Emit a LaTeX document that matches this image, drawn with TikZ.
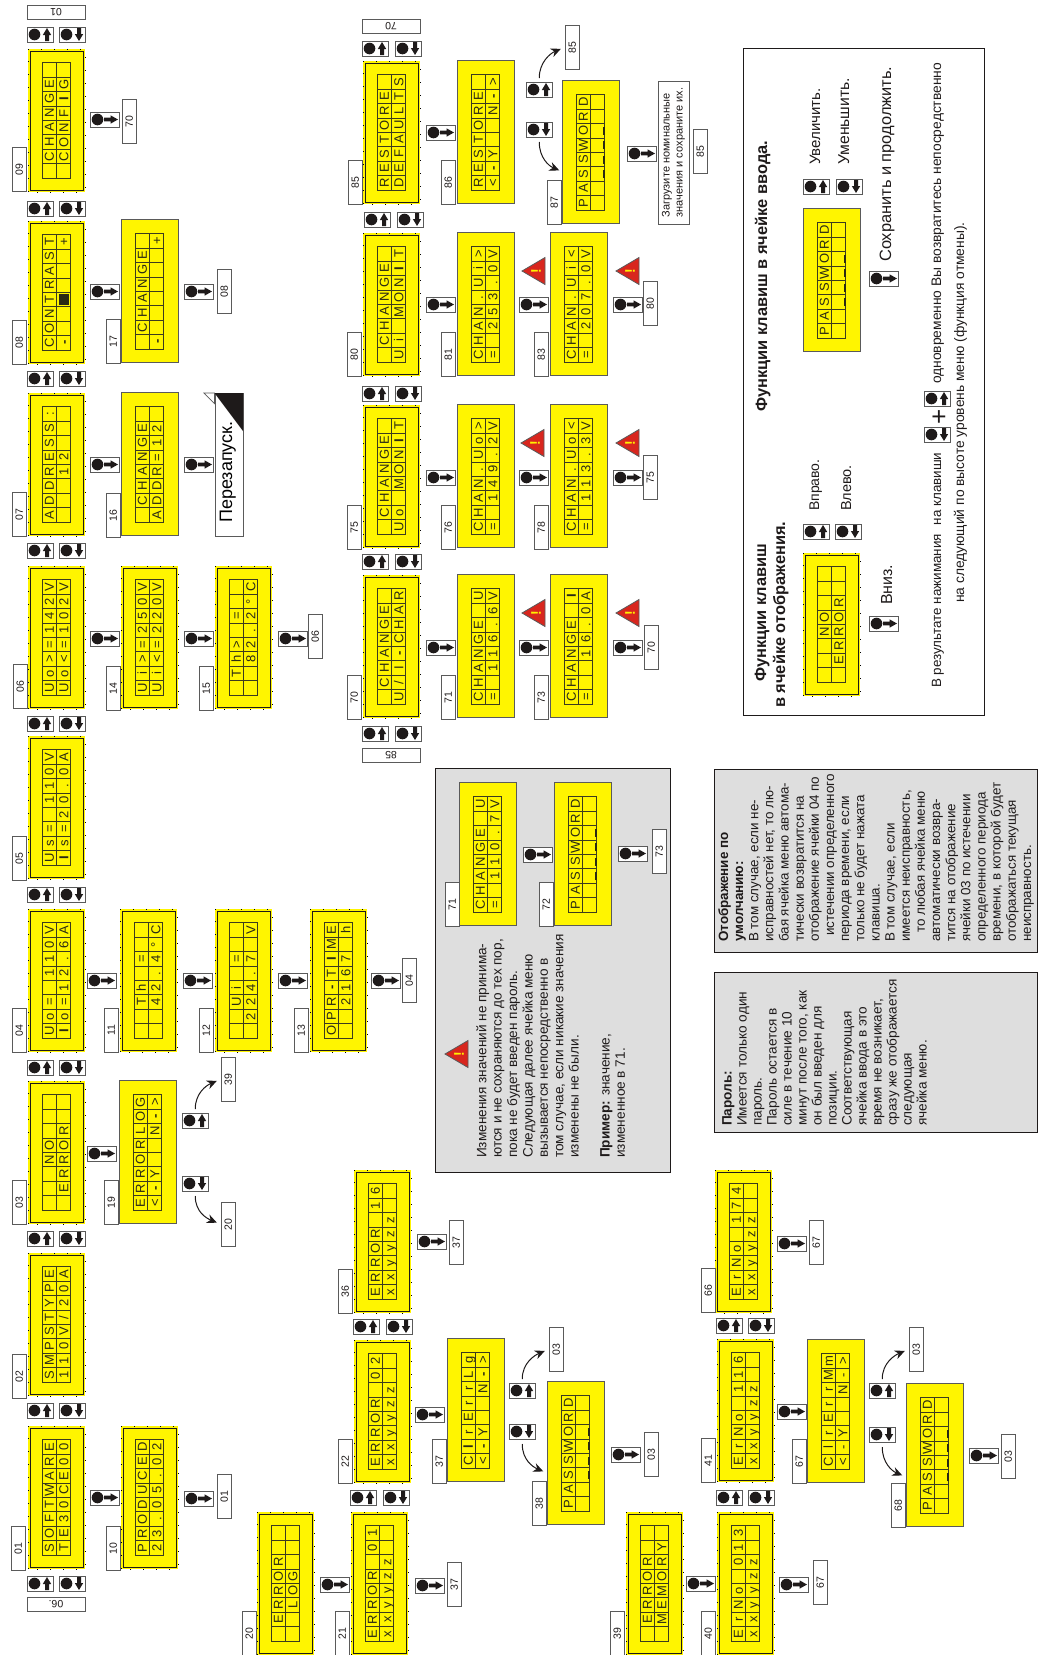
\documentclass[tikz,border=0pt]{standalone}
\usepackage{fontspec}
\setmainfont{Liberation Sans}
\usetikzlibrary{arrows.meta}
\definecolor{lcdyellow}{HTML}{FFF500}
\definecolor{lcdline}{HTML}{3C3C1E}
\definecolor{lcdtext}{HTML}{2A2A14}
\definecolor{edge}{HTML}{5A5A5A}
\definecolor{ink}{HTML}{1E1A1A}
\definecolor{greyfill}{HTML}{DEDEDE}
\definecolor{warnred}{HTML}{D8261E}
\makeatletter
\def\lcdstar{*}
\newcommand\lcdrowtext[1]{\@tfor\lcdc:=#1\do{\makebox[14.4pt][c]{\ifx\lcdc\lcdstar\else\lcdc\fi}}}
\makeatother
\newcommand\B[1]{\textbf{#1}}
\newcommand\curs{\rule[-2.8pt]{8pt}{2pt}}
\newcommand\sqr{\rule[-1pt]{10.5pt}{10.5pt}}
\newcommand\fs[2]{\fontsize{#1}{#2}\selectfont}
\tikzset{
  lcdd/.style={fill=lcdyellow,draw=none,inner sep=0pt,minimum width=57pt,minimum height=143pt,anchor=south west},
  lcdp/.style={fill=lcdyellow,draw=edge,line width=0.9pt,inner sep=0pt,minimum width=57pt,minimum height=143pt,anchor=south west},
  lcdrow/.style={rotate=90,inner sep=0pt,text=lcdtext,font=\fs{13}{13},text height=9.3pt,text depth=0pt,anchor=center},
  gridln/.style={draw=lcdline,line width=0.8pt},
  tag/.style={rotate=90,draw=edge,fill=white,line width=0.9pt,inner sep=0pt,minimum width=43.5pt,minimum height=14.5pt,font=\fs{10.5}{10.5},text=ink},
  wtag/.style={rotate=180,draw=edge,fill=white,line width=0.9pt,inner sep=0pt,minimum width=58pt,minimum height=14.5pt,font=\fs{10.5}{10.5},text=ink},
  keybox/.style={draw=edge,fill=white,line width=1pt,inner sep=0pt,minimum height=15pt,anchor=north west},
  cv/.style={draw=ink,line width=1pt,-{Stealth[length=10pt,width=9pt]},shorten <=4pt,shorten >=4pt},
  greybox/.style={draw=ink,fill=greyfill,line width=1.3pt,inner sep=0pt,anchor=north west},
  para/.style={rotate=90,inner sep=0pt,anchor=north west,align=left,text=ink},
  lineh/.style={rotate=90,inner sep=0pt,anchor=west,text=ink,text height=8pt,text depth=2pt},
}
% LCD: id, left x, bottom y, kind (d/p), row 1, row 2
\newcommand\lcd[6]{%
  \node[lcd#4,name=c#1] at (#2,#3) {};
  \if#4d
    \draw[draw=ink,line width=0.9pt] (#2+2,#3-2) rectangle (#2+55,#3-141);
    \draw[draw=black,line width=1pt,dash pattern=on 1pt off 12pt] (#2,#3) rectangle (#2+57,#3-143);
  \fi
  \begin{scope}[shift={(#2,#3)}]
    \foreach \lcdi in {0,...,8} \draw[gridln] (14,-14-14.4*\lcdi) -- (42.8,-14-14.4*\lcdi);
    \foreach \lcdi in {0,1,2} \draw[gridln] (14+14.4*\lcdi,-14) -- (14+14.4*\lcdi,-129.2);
    \node[lcdrow,name=c#1a] at (21.2,-71.6) {\lcdrowtext{#5}};
    \node[lcdrow,name=c#1b] at (35.6,-71.6) {\lcdrowtext{#6}};
  \end{scope}}
% numbered tags: name, left x, bottom y, text
\newcommand\tagn[4]{\node[tag,name=#1] at (#2+7.25,#3-21.75) {#4};}
\newcommand\wtagn[4]{\node[wtag,name=#1] at (#2+29,#3+7.25) {#4};}
% keys: name, left x, top y
\newcommand\kyu[3]{%
  \node[keybox,minimum width=25.5pt,name=#1] at (#2,#3) {};
  \fill[ink] (#2+7.5,#3+7.5) circle (5.8);
  \fill[ink] (#2+20,#3+1) -- (#2+24.2,#3+8) -- (#2+22,#3+8) -- (#2+22,#3+14) -- (#2+18,#3+14) -- (#2+18,#3+8) -- (#2+15.8,#3+8) -- cycle;}
\newcommand\kyd[3]{%
  \node[keybox,minimum width=25.5pt,name=#1] at (#2,#3) {};
  \fill[ink] (#2+7.5,#3+7.5) circle (5.8);
  \fill[ink] (#2+20,#3+14) -- (#2+24.2,#3+7) -- (#2+22,#3+7) -- (#2+22,#3+1) -- (#2+18,#3+1) -- (#2+18,#3+7) -- (#2+15.8,#3+7) -- cycle;}
\newcommand\kyr[3]{%
  \node[keybox,minimum width=29pt,name=#1] at (#2,#3) {};
  \fill[ink] (#2+7.5,#3+7.5) circle (5.8);
  \fill[ink] (#2+28,#3+7.5) -- (#2+20.5,#3+3.3) -- (#2+20.5,#3+5.7) -- (#2+14,#3+5.7) -- (#2+14,#3+9.3) -- (#2+20.5,#3+9.3) -- (#2+20.5,#3+11.7) -- cycle;}
\newcommand\kp[4]{\kyu{#1u}{#2}{#4}\kyd{#1d}{#3}{#4}}
% warning: name, apex x, mid y
\newcommand\warn[3]{%
  \path[fill=warnred,draw=edge,line width=0.8pt] (#2,#3) -- (#2+23,#3-13.5) -- (#2+23,#3+13.5) -- cycle;
  \node[rotate=90,inner sep=0pt,text=yellow,font=\fs{14}{14}\bfseries,name=#1] at (#2+14,#3) {!};}
\begin{document}
\begin{tikzpicture}[x=1pt,y=-1pt]
\useasboundingbox (0,0) rectangle (1042,1655);
% column 1
\lcd{09}{28}{192}{d}{*CHANGE*}{*CONF{\B{I}}G*}
\lcd{08}{28}{364}{d}{CONTRAST}{{\B{-}}**\sqr***+}
\lcd{07}{28}{536}{d}{ADDRESS:}{***12***}
\lcd{06}{28}{709}{d}{Uo>=142V}{Uo<=102V}
\lcd{05}{28}{879}{d}{Us=*110V}{{\B{I}}s=20.0A}
\lcd{04}{28}{1052}{d}{Uo=*110V}{{\B{I}}o=12.6A}
\lcd{03}{28}{1224}{d}{***NO***}{*ERROR**}
\lcd{02}{28}{1396}{d}{SMPSTYPE}{110V/20A}
\lcd{01}{28}{1569}{d}{SOFTWARE}{TE30CE00}
% column 2
\lcd{17}{121}{363}{p}{*CHANGE*}{{\B{-}}******+}
\lcd{16}{121}{536}{p}{*CHANGE*}{ADDR=12*}
\lcd{14}{121}{709}{d}{Ui>=250V}{Ui<=220V}
\lcd{11}{120}{1052}{d}{**Th*=**}{**42.4°C}
\lcd{19}{119}{1224}{p}{ERRORLOG}{<{\B{-}}Y**N{\B{-}}>}
\lcd{10}{121}{1569}{d}{PRODUCED}{23.05.02}
% column 3
\lcd{15}{215}{709}{d}{*Th>*=**}{**82.2°C}
\lcd{12}{215}{1052}{d}{**Ui*=**}{*224.7*V}
\lcd{13}{310}{1052}{d}{OPR{\B{-}}T{\B{I}}ME}{**2167*h}
% error block
\lcd{20}{257}{1655}{d}{*ERROR**}{**LOG***}
\lcd{21}{351}{1655}{d}{ERROR*01}{xxyyzz**}
\lcd{22}{354}{1483}{d}{ERROR*02}{xxyyzz**}
\lcd{36}{354}{1313}{d}{ERROR*16}{xxyyzz**}
\lcd{37}{447}{1482}{p}{C{\B{l}}rErrLg}{<{\B{-}}Y**N{\B{-}}>}
\lcd{38}{547}{1525}{p}{PASSWORD}{**\curs\curs\curs\curs**}
\lcd{39}{626}{1655}{d}{*ERROR**}{*MEMORY*}
\lcd{40}{717}{1655}{d}{ErNo*013}{xxyyzz**}
\lcd{41}{717}{1482}{d}{ErNo*116}{xxyyzz**}
\lcd{66}{715}{1313}{d}{ErNo*174}{xxyyzz**}
\lcd{67}{807}{1483}{p}{ClrErrMm}{<-Y**N->}
\lcd{68}{906}{1527}{p}{PASSWORD}{**\curs\curs\curs\curs**}
% upper right
\lcd{85}{363}{204}{d}{RESTORE*}{DEFAULTS}
\lcd{86}{457}{204}{p}{RESTORE*}{<{\B{-}}Y**N{\B{-}}>}
\lcd{87}{562}{224}{p}{PASSWORD}{**\curs\curs\curs\curs**}
\lcd{80}{363}{376}{d}{*CHANGE*}{Ui*MON{\B{I}}T}
\lcd{81}{457}{376}{p}{CHAN.Ui>}{=*253.0V}
\lcd{83}{550}{376}{p}{CHAN.Ui<}{=*207.0V}
\lcd{75}{363}{548}{d}{*CHANGE*}{Uo*MON{\B{I}}T}
\lcd{76}{457}{548}{p}{CHAN.Uo>}{=*149.2V}
\lcd{78}{550}{548}{p}{CHAN.Uo<}{=*113.3V}
\lcd{70}{363}{718}{d}{*CHANGE*}{U/I{\B{-}}CHAR}
\lcd{71}{457}{718}{p}{CHANGE*U}{=*116.6V}
\lcd{73}{550}{718}{p}{CHANGE*{\B{I}}}{=**16.0A}
% tags
\tagn{t09}{12}{191}{09}\tagn{t08}{12}{364}{08}\tagn{t07}{12}{536}{07}\tagn{t06}{13}{708}{06}
\tagn{t05}{12}{880}{05}\tagn{t04}{12}{1052}{04}\tagn{t03}{12}{1224}{03}\tagn{t02}{12}{1398}{02}\tagn{t01}{11}{1570}{01}
\tagn{t17}{106}{363}{17}\tagn{t16}{106}{537}{16}\tagn{t14}{106}{710}{14}\tagn{t11}{104}{1052}{11}\tagn{t19}{104}{1224}{19}\tagn{t10}{106}{1570}{10}
\tagn{t15}{199}{710}{15}\tagn{t12}{199}{1052}{12}\tagn{t13}{294}{1052}{13}
\tagn{t20}{242}{1655}{20}\tagn{t21}{335}{1655}{21}\tagn{t22}{338}{1483}{22}\tagn{t36}{338}{1313}{36}\tagn{t37}{432}{1483}{37}\tagn{t38}{532}{1525}{38}
\tagn{t39}{610}{1655}{39}\tagn{t40}{701}{1655}{40}\tagn{t41}{701}{1482}{41}\tagn{t66}{701}{1312}{66}\tagn{t67}{792}{1483}{67}\tagn{t68}{891}{1527}{68}
\tagn{t85}{348}{204}{85}\tagn{t86}{441}{204}{86}\tagn{t87}{547}{224}{87}\tagn{t80}{347}{376}{80}\tagn{t81}{441}{376}{81}\tagn{t83}{534}{376}{83}
\tagn{t75}{347}{549}{75}\tagn{t76}{441}{549}{76}\tagn{t78}{534}{549}{78}\tagn{t70}{347}{719}{70}\tagn{t71}{441}{719}{71}\tagn{t73}{534}{719}{73}
% target tags
\tagn{n70a}{122}{143}{70}\tagn{n08}{217}{313}{08}\tagn{n06}{308}{658}{06}\tagn{n04}{402}{1002}{04}
\tagn{n39}{221}{1101}{39}\tagn{n20}{221}{1246}{20}\tagn{n01}{217}{1518}{01}
\tagn{n37a}{447}{1606}{37}\tagn{n37b}{449}{1264}{37}\tagn{n03a}{549}{1371}{03}\tagn{n03b}{644}{1476}{03}
\tagn{n67a}{813}{1604}{67}\tagn{n67b}{809}{1264}{67}\tagn{n03c}{909}{1371}{03}\tagn{n03d}{1001}{1478}{03}
\tagn{n85a}{565}{69}{85}\tagn{n85b}{693}{173}{85}\tagn{n80}{643}{325}{80}\tagn{n75}{643}{499}{75}\tagn{n70b}{644}{669}{70}
\wtagn{w01}{27}{5}{01}\wtagn{w06}{27}{1597}{06.}\wtagn{w70}{362}{19}{70}\wtagn{w85}{362}{748}{85}
% key pairs, column 1
\kp{a1}{27}{59}{27}\kp{a2}{27}{59}{201}\kp{a3}{27}{59}{371}\kp{a4}{27}{59}{543}\kp{a5}{27}{59}{716}
\kp{a6}{27}{59}{887}\kp{a7}{27}{59}{1060}\kp{a8}{27}{59}{1231}\kp{a9}{27}{59}{1403}\kp{a10}{27}{59}{1576}
% key pairs, others
\kp{b1}{350}{383}{1490}\kp{b2}{353}{386}{1319}\kp{b3}{716}{748}{1490}\kp{b4}{716}{748}{1318}
\kp{b5}{362}{395}{41}\kp{b6}{364}{397}{212}\kp{b7}{362}{395}{386}\kp{b8}{362}{395}{554}\kp{b9}{362}{395}{726}
% right keys
\kyr{r1}{90}{112}\kyr{r2}{90}{284}\kyr{r3}{90}{457}\kyr{r4}{90}{631}\kyr{r5}{87}{973}\kyr{r6}{87}{1146}\kyr{r7}{90}{1490}
\kyr{r8}{184}{284}\kyr{r9}{184}{457}\kyr{r10}{184}{631}\kyr{r11}{183}{973}\kyr{r12}{184}{1491}
\kyr{r13}{278}{631}\kyr{r14}{278}{973}\kyr{r15}{371}{973}
\kyr{r16}{320}{1577}\kyr{r17}{415}{1578}\kyr{r18}{417}{1234}\kyr{r19}{415}{1407}\kyr{r20}{611}{1447}
\kyr{r21}{686}{1576}\kyr{r22}{779}{1577}\kyr{r23}{777}{1236}\kyr{r24}{777}{1404}\kyr{r25}{969}{1448}
\kyr{r26}{426}{125}\kyr{r27}{426}{297}\kyr{r28}{426}{470}\kyr{r29}{426}{640}
\kyr{r30}{519}{297}\kyr{r31}{519}{470}\kyr{r32}{519}{640}
\kyr{r33}{613}{297}\kyr{r34}{613}{470}\kyr{r35}{613}{640}\kyr{r36}{627}{146}
% branch keys and curved arrows
\kyu{u19}{182}{1113}\kyd{d19}{182}{1176}
\kyu{u37}{509}{1383}\kyd{d37}{509}{1424}
\kyu{u67}{869}{1383}\kyd{d67}{869}{1427}
\kyu{u86}{526}{82}\kyd{d86}{526}{122}
\coordinate (e38) at (547,1473);
\coordinate (e68) at (906,1477);
\coordinate (e87) at (563,172);
\draw[cv] (u19.north) .. controls +(0,-20) and +(-14,6) .. (n39.north);
\draw[cv] (d19.south) .. controls +(0,20) and +(-14,-6) .. (n20.north);
\draw[cv] (u37.north) .. controls +(0,-20) and +(-14,6) .. (n03a.north);
\draw[cv] (d37.south) .. controls +(0,20) and +(-14,-6) .. (e38);
\draw[cv] (u67.north) .. controls +(0,-20) and +(-14,6) .. (n03c.north);
\draw[cv] (d67.south) .. controls +(0,20) and +(-14,-6) .. (e68);
\draw[cv] (u86.north) .. controls +(0,-20) and +(-14,6) .. (n85a.north);
\draw[cv] (d86.south) .. controls +(0,20) and +(-14,-6) .. (e87);
% warnings
\warn{w81}{522}{271}\warn{w83}{616}{271}\warn{w76}{521}{443}\warn{w78}{616}{443}\warn{w71}{522}{613}\warn{w73}{616}{613}
% restart box
\node[rotate=90,draw=edge,fill=white,line width=0.9pt,inner sep=0pt,minimum width=143pt,minimum height=28pt,name=reset] at (229,464.5) {};
\fill[ink] (214.5,393) -- (243,393) -- (243,431) -- cycle;
\path[draw=edge,fill=white,line width=0.7pt] (204,393) -- (214.5,393) -- (214.5,403.5) -- cycle;
\node[lineh,name=resett,font=\fs{18}{18},text=black] at (229,523) {Перезапуск.};
% load-defaults note
\node[rotate=90,draw=edge,fill=white,line width=0.9pt,inner sep=0pt,minimum width=143pt,minimum height=31pt,name=loadbox,font=\fs{11}{13},align=left,text=ink] at (673.5,152.5) {Загрузите номинальные\\значения и сохраните их.};
% grey box A
\node[greybox,minimum width=235pt,minimum height=404pt,name=boxa] at (435,768) {};
\lcd{a71}{459}{926}{p}{CHANGE*U}{=*110.7V}
\lcd{a72}{554}{926}{p}{PASSWORD}{**\curs\curs\curs\curs**}
\tagn{ta71}{445}{926}{71}\tagn{ta72}{539}{926}{72}\tagn{ta73}{652}{873}{73}
\kyr{ra1}{523}{847}\kyr{ra2}{618}{846}
\warn{wa}{445}{1054}
\node[para,name=boxatext,font=\fs{13.6}{15.4}] at (476,1158) {Изменения значений не принима-\\ются и не сохраняются до тех пор,\\пока не будет введен пароль.\\Следующая далее ячейка меню\\вызывается непосредственно в\\том случае, если никакие значения\\изменены не были.\\[15.4pt]\textbf{Пример:} значение,\\измененное в 71.};
% grey box B
\node[greybox,minimum width=323pt,minimum height=160pt,name=boxb] at (714,972) {};
\node[para,name=boxbtext,font=\fs{13.6}{15}] at (722,1126) {\textbf{Пароль:}\\Имеется только один\\пароль.\\Пароль остается в\\силе в течение 10\\минут после того, как\\он был введен для\\позиции.\\Соответствующая\\ячейка ввода в это\\время не возникает,\\сразу же отображается\\следующая\\ячейка меню.};
% grey box C
\node[greybox,minimum width=323pt,minimum height=183pt,name=boxc] at (714,769) {};
\node[para,name=boxctext,font=\fs{13.4}{15.15}] at (718,942) {\textbf{Отображение по}\\\textbf{умолчанию:}\\В том случае, если не-\\исправностей нет, то лю-\\бая ячейка меню автома-\\тически возвратится на\\отображение ячейки 04 по\\\hspace*{6pt}истечении определенного\\периода времени, если\\только не будет нажата\\клавиша.\\В том случае, если\\имеется неисправность,\\\hspace*{9pt}то любая ячейка меню\\автоматически возвра-\\тится на отображение\\ячейки 03 по истечении\\определенного периода\\времени, в которой будет\\отображаться текущая\\неисправность.};
% legend
\node[draw=ink,line width=1pt,inner sep=0pt,minimum width=241pt,minimum height=667pt,anchor=north west,name=legend] at (743,48) {};
\lcd{l1}{803}{696}{d}{***NO***}{*ERROR**}
\lcd{l2}{803}{352}{p}{PASSWORD}{**\curs\curs\curs\curs**}
\kyu{lu1}{803}{524}\kyd{ld1}{835}{524}\kyr{lr1}{869}{616}
\kyu{lu2}{803}{179}\kyd{ld2}{836}{179}\kyr{lr2}{869}{271}
\kyu{lu3}{924}{391}\kyd{ld3}{924}{427}
\node[rotate=90,inner sep=0pt,font=\fs{26}{26},text=ink,name=lplus] at (940,416.5) {+};
\node[lineh,font=\fs{16.4}{16.4}\bfseries,name=lt1] at (763,682) {Функции клавиш};
\node[lineh,font=\fs{16.4}{16.4}\bfseries,name=lt2] at (782,708) {в ячейке отображения.};
\node[lineh,font=\fs{16.4}{16.4}\bfseries,name=lt3] at (764,412) {Функции клавиш в ячейке ввода.};
\node[lineh,font=\fs{14}{14},name=lt4] at (816,511) {Вправо.};
\node[lineh,font=\fs{14.5}{14.5},name=lt5] at (848,511) {Влево.};
\node[lineh,font=\fs{16}{16},name=lt6] at (889,605) {Вниз.};
\node[lineh,font=\fs{15}{15},name=lt7] at (817,165) {Увеличить.};
\node[lineh,font=\fs{15.7}{15.7},name=lt8] at (846,165) {Уменьшить.};
\node[lineh,font=\fs{16.4}{16.4},name=lt9] at (888,262) {Сохранить и продолжить.};
\node[lineh,font=\fs{13.4}{13.4},name=lt10] at (938,688) {В результате нажимания\hspace{5pt} на клавиши};
\node[lineh,font=\fs{13.8}{13.8},name=lt11] at (938,384) {одновременно Вы возвратитесь непосредственно};
\node[lineh,font=\fs{13.8}{13.8},name=lt12] at (961,603) {на следующий по высоте уровень меню (функция отмены).};
\end{tikzpicture}
\end{document}
